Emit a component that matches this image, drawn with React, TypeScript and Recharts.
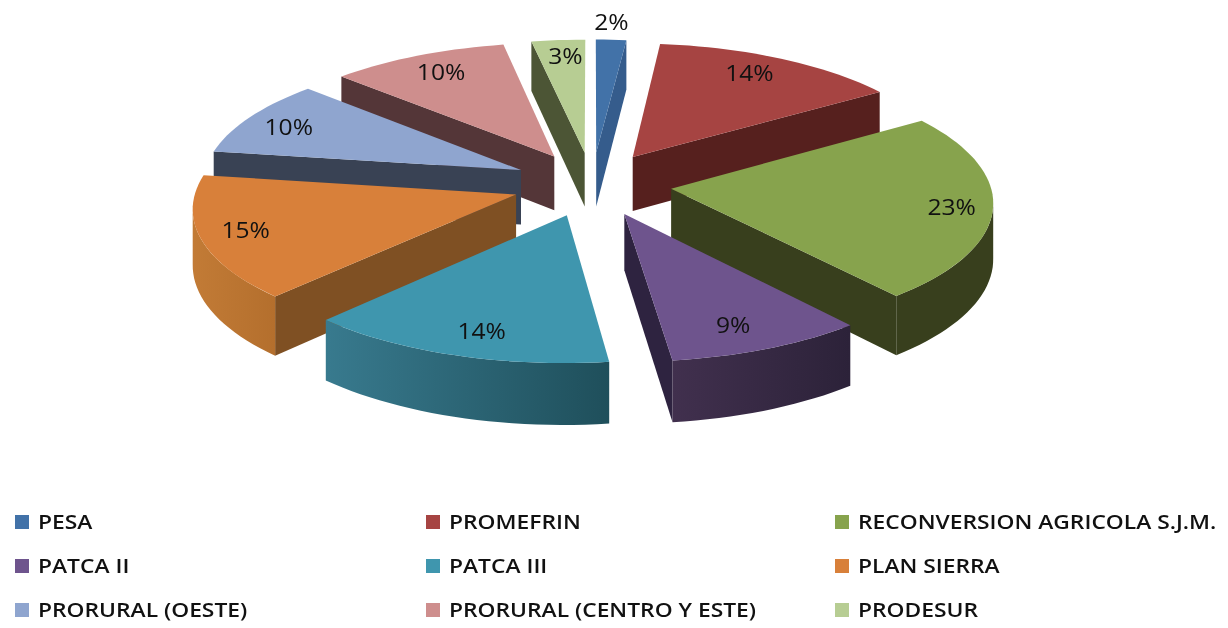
import { PieChart, Pie, Legend } from 'recharts'

const CATEGORIES = [
  'PESA',
  'PROMEFRIN',
  'RECONVERSION AGRICOLA S.J.M.',
  'PATCA II',
  'PATCA III',
  'PLAN SIERRA',
  'PRORURAL (OESTE)',
  'PRORURAL (CENTRO Y ESTE)',
  'PRODESUR',
]
// the labels show them rounded
const VALUES = [1.7, 14, 23.3, 9, 14, 15.4, 9.6, 10, 3]
const TOP_COLORS = ['#4272a8', '#a64442', '#87a34d', '#6e548d', '#3f96ae', '#d8803a', '#8fa5cf', '#ce8e8d', '#b7cd93']
const WALL_COLORS = ['#355c8c', '#56201e', '#383f1d', '#2e2340', '#2e2340', '#7f5023', '#394254', '#543638', '#4c5535']
const RIM_FROM = ['#355c8c', '#56201e', '#383f1d', '#41304e', '#387a8e', '#c27b36', '#394254', '#543638', '#4c5535']
const RIM_TO = ['#355c8c', '#56201e', '#383f1d', '#2c2239', '#1f4f5b', '#b46f2d', '#394254', '#543638', '#4c5535']
// back to front, so nearer slices paint over the walls behind them
const DRAW_ORDER = [0, 8, 1, 7, 6, 2, 5, 3, 4]
// small pixel nudges for the value labels
const LABEL_SHIFT = [
  [-2, -1],
  [-8, -2],
  [14, 2],
  [-9, 1],
  [7, 1],
  [-10, -1],
  [-6, 1],
  [2, 0],
  [3, -2],
]

const DEPTH = 55
const SQUASH = 0.403 // vertical / horizontal radius
const PERSPECTIVE = 0.09
const EXPLODE = 0.25
const FONT = '"Open Sans", sans-serif'

const rows = CATEGORIES.map((name, i) => ({
  name,
  value: VALUES[i],
  fill: TOP_COLORS[i],
  slot: i,
}))

const rad = (deg: number) => (deg * Math.PI) / 180

function Slice3D(props: any) {
  const { cx, cy, outerRadius: R, startAngle, endAngle, payload } = props
  const slot = payload.slot
  // recharts angles are counter-clockwise from 3 o'clock, ours clockwise from 12
  const from = 90 - startAngle
  const to = 90 - endAngle
  const mid = (from + to) / 2

  const project = (rho: number, deg: number, offset = EXPLODE) => {
    const X = rho * Math.sin(rad(deg)) + offset * Math.sin(rad(mid))
    const Y = rho * Math.cos(rad(deg)) + offset * Math.cos(rad(mid))
    const s = 1 / (1 + PERSPECTIVE * Y)
    return { x: cx + R * X * s, y: cy - R * SQUASH * Y * s, drop: DEPTH * s }
  }
  const path = (pts: { x: number; y: number }[]) =>
    pts.map((p, i) => `${i ? 'L' : 'M'}${p.x.toFixed(1)} ${p.y.toFixed(1)}`).join(' ') + ' Z'
  const down = (p: { x: number; y: number; drop: number }) => ({ x: p.x, y: p.y + p.drop })

  const tip = project(0, 0)
  const arc = []
  const steps = Math.max(2, Math.ceil((to - from) / 2))
  for (let i = 0; i <= steps; i++) arc.push(project(1, from + ((to - from) * i) / steps))

  // the rim runs between the two silhouette points of the disc
  let edgeRight = 90
  let edgeLeft = 270
  for (let d = 60; d <= 120; d++) if (project(1, d).x > project(1, edgeRight).x) edgeRight = d
  for (let d = 240; d <= 300; d++) if (project(1, d).x < project(1, edgeLeft).x) edgeLeft = d
  const rimFrom = Math.max(from, edgeRight)
  const rimTo = Math.min(to, edgeLeft)
  const rim = []
  if (rimTo > rimFrom) {
    const n = Math.ceil((rimTo - rimFrom) / 2)
    for (let i = 0; i <= n; i++) rim.push(project(1, rimFrom + ((rimTo - rimFrom) * i) / n))
  }

  const walls: string[] = []
  if (Math.sin(rad(from)) < 0) {
    const e = arc[0]
    walls.push(path([tip, e, down(e), down(tip)]))
  }
  if (Math.sin(rad(to)) > 0) {
    const e = arc[arc.length - 1]
    walls.push(path([tip, e, down(e), down(tip)]))
  }

  const value = payload.value
  const outside = value <= 2
  const spot = outside ? project(1.42, mid, 0) : project(1.08, mid, 0)
  const [nudgeX, nudgeY] = LABEL_SHIFT[slot]
  const gradId = `rim-${slot}`

  return (
    <g>
      <defs>
        <linearGradient id={gradId} x1="0" y1="0" x2="1" y2="0">
          <stop offset="0%" stopColor={RIM_FROM[slot]} />
          <stop offset="100%" stopColor={RIM_TO[slot]} />
        </linearGradient>
      </defs>
      {walls.map((d, i) => (
        <path key={i} d={d} fill={WALL_COLORS[slot]} />
      ))}
      {rim.length > 0 && <path d={path([...rim, ...rim.map(down).reverse()])} fill={`url(#${gradId})`} />}
      <path d={path([tip, ...arc])} fill={TOP_COLORS[slot]} />
      <text
        transform={`translate(${(spot.x + nudgeX).toFixed(1)} ${(spot.y + nudgeY).toFixed(1)}) scale(1.12 1)`}
        textAnchor="middle"
        dominantBaseline="central"
        fontFamily={FONT}
        fontSize={22}
        fontWeight={500}
        fill="#111"
      >
        {Math.round(value)}%
      </text>
    </g>
  )
}

function ChartLegend() {
  return (
    <div
      style={{
        position: 'absolute',
        left: 15,
        top: 500,
        display: 'grid',
        gridTemplateColumns: '411px 409px 380px',
        gridAutoRows: '44px',
        fontFamily: FONT,
        fontSize: 19,
        fontWeight: 600,
        color: '#111',
      }}
    >
      {CATEGORIES.map((name, i) => (
        <div key={name} style={{ display: 'flex', alignItems: 'center', whiteSpace: 'nowrap' }}>
          <span style={{ width: 14, height: 14, background: TOP_COLORS[i], flex: 'none' }} />
          <span style={{ marginLeft: 9, transform: 'scaleX(1.2)', transformOrigin: 'left center' }}>{name}</span>
        </div>
      ))}
    </div>
  )
}

export default function App() {
  return (
    <div style={{ position: 'absolute', left: 0, top: 0, width: 1228, height: 628, background: '#fff', filter: 'blur(0.5px)' }}>
      <PieChart width={1228} height={628} margin={{ top: 0, right: 0, bottom: 0, left: 0 }}>
        {DRAW_ORDER.map((slot) => (
          <Pie
            key={slot}
            data={rows}
            dataKey="value"
            nameKey="name"
            cx={592}
            cy={184}
            innerRadius={0}
            outerRadius={319}
            startAngle={90}
            endAngle={-270}
            stroke="none"
            isAnimationActive={false}
            shape={(p: any) => (p.payload.slot === slot ? <Slice3D {...p} /> : <g />)}
          />
        ))}
        <Legend
          content={() => <ChartLegend />}
          wrapperStyle={{ left: 0, top: 0, bottom: 'auto', width: 1228, height: 628 }}
        />
      </PieChart>
    </div>
  )
}
